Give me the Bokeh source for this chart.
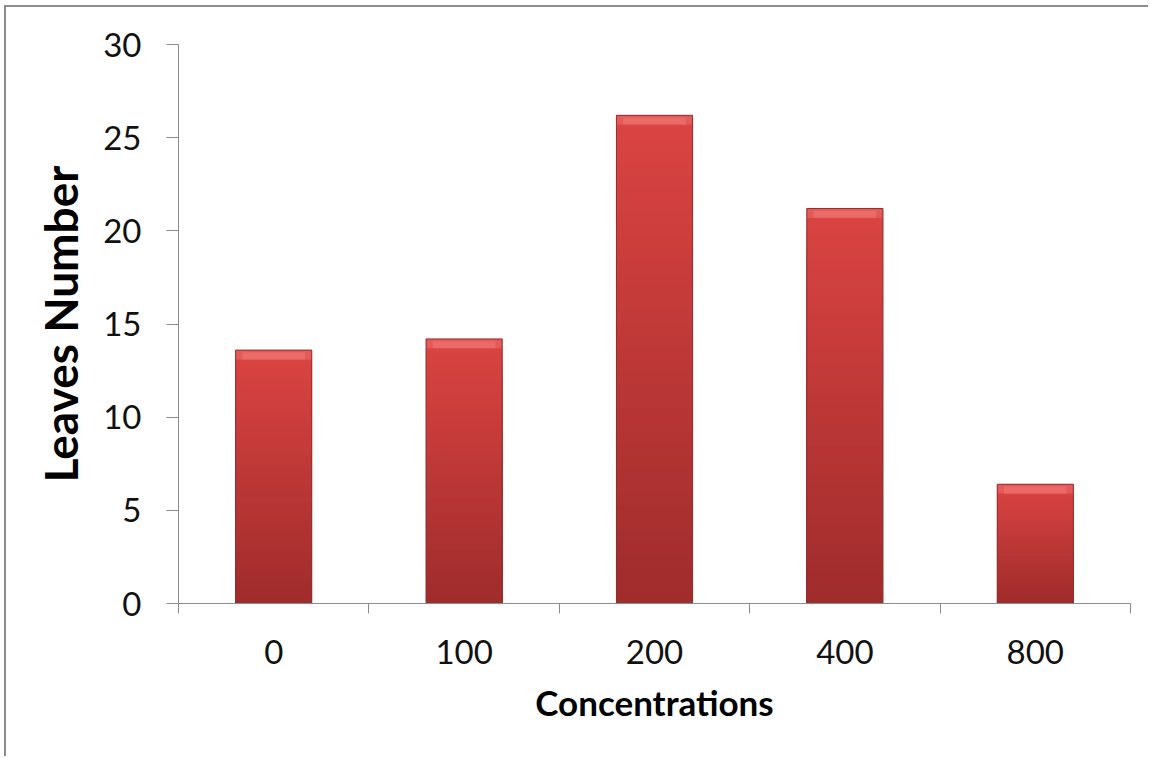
from bokeh.plotting import figure
from bokeh.models import FixedTicker, Range1d
from bokeh.embed import file_html
from bokeh.resources import INLINE

# ---- data ----
categories = ["0", "100", "200", "400", "800"]
leaves = [13.6, 14.2, 26.2, 21.2, 6.4]
y_ticks = [0, 5, 10, 15, 20, 25, 30]

FONT = "Lato"
W, H = 1144, 751

p = figure(width=W, height=H, output_backend="svg", toolbar_location=None,
           x_range=Range1d(0, len(categories)), y_range=Range1d(0, 30),
           min_border_left=172, min_border_right=20, min_border_top=37,
           min_border_bottom=155)
p.styles = {"border-left": "2px solid #8c8c8c", "border-top": "2px solid #8c8c8c",
            "margin-left": "4px", "margin-top": "5px"}
p.outline_line_color = None
p.grid.grid_line_color = None
p.background_fill_color = "white"
p.border_fill_color = "white"

xc = [i + 0.5 for i in range(len(categories))]

# gradient bars (lighter top -> darker bottom), overlapping layers avoid seams
N = 40
top_rgb = (218, 68, 66)
bot_rgb = (160, 44, 44)
for k in range(N):
    t = k / (N - 1)
    c = tuple(int(round(top_rgb[j] + (bot_rgb[j] - top_rgb[j]) * t)) for j in range(3))
    col = "#%02x%02x%02x" % c
    p.vbar(x=xc, width=0.4, bottom=0, top=[v * (1 - k / N) for v in leaves],
           fill_color=col, line_color=None)
# top highlight cap
p.vbar(x=xc, width=0.4, bottom=[v - 0.5 for v in leaves], top=leaves,
       fill_color="#e45a58", line_color=None)
p.vbar(x=xc, width=0.33, bottom=[v - 0.5 for v in leaves], top=[v - 0.12 for v in leaves],
       fill_color="#e96a66", line_color=None)
# outline
p.vbar(x=xc, width=0.4, bottom=0, top=leaves, fill_color=None,
       line_color="#8e3030", line_width=1)

# axes
xa = p.xaxis[0]
xa.ticker = FixedTicker(ticks=xc, minor_ticks=list(range(len(categories) + 1)))
xa.major_label_overrides = {x: c for x, c in zip(xc, categories)}
xa.major_tick_out = 0
xa.major_tick_in = 0
xa.minor_tick_out = 10
xa.minor_tick_in = 0
xa.minor_tick_line_color = "#8c8c8c"
xa.axis_line_color = "#8c8c8c"
xa.major_label_text_font = FONT
xa.major_label_text_font_size = "33px"
xa.major_label_text_color = "#111111"
xa.major_label_standoff = 26
xa.axis_label = "Concentrations"
xa.axis_label_text_font = FONT
xa.axis_label_text_font_size = "35px"
xa.axis_label_text_font_style = "bold"
xa.axis_label_text_color = "#000000"
xa.axis_label_standoff = 14

ya = p.yaxis[0]
ya.ticker = FixedTicker(ticks=y_ticks)
ya.major_tick_out = 12
ya.major_tick_in = 0
ya.minor_tick_out = 0
ya.minor_tick_in = 0
ya.major_tick_line_color = "#8c8c8c"
ya.axis_line_color = "#8c8c8c"
ya.major_label_text_font = FONT
ya.major_label_text_font_size = "33px"
ya.major_label_text_color = "#111111"
ya.major_label_standoff = 25
ya.axis_label = "Leaves Number"
ya.axis_label_text_font = FONT
ya.axis_label_text_font_size = "46px"
ya.axis_label_text_font_style = "bold"
ya.axis_label_text_color = "#000000"
ya.axis_label_standoff = 12

open("out.html", "w").write(file_html(p, INLINE))
